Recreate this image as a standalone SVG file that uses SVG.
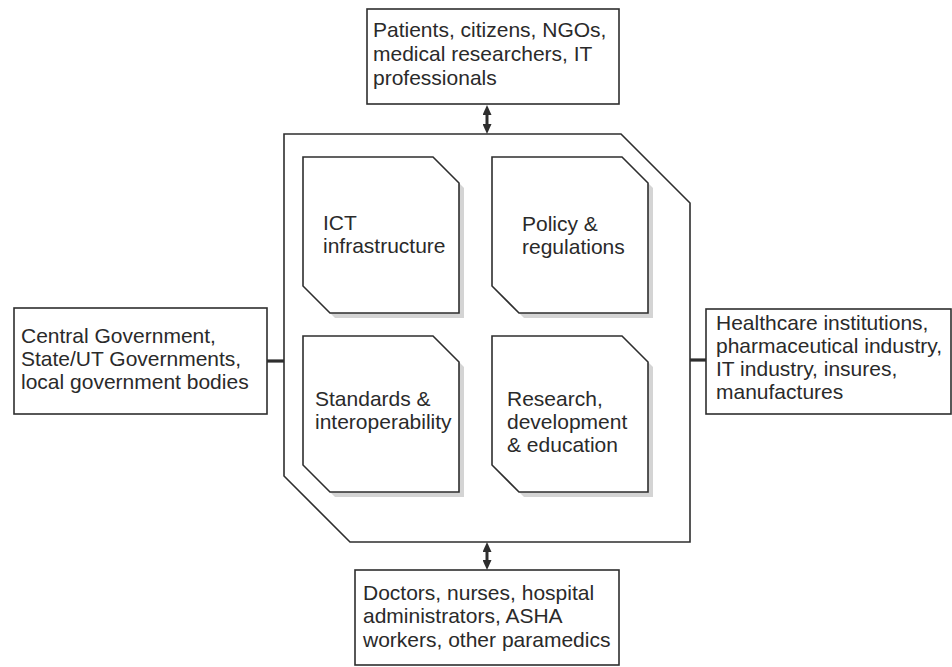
<svg xmlns="http://www.w3.org/2000/svg" width="952" height="667" viewBox="0 0 952 667">
  <style>
    .box { fill: #ffffff; stroke: #2e2e2e; stroke-width: 1.6; }
    .pillar { fill: #ffffff; stroke: #2e2e2e; stroke-width: 1.6; }
    .shadow { fill: #d4d4d4; stroke: none; }
    .frame { fill: none; stroke: #2e2e2e; stroke-width: 1.6; }
    .stub { stroke: #2e2e2e; stroke-width: 3.2; fill: none; }
    .shaft { stroke: #2e2e2e; stroke-width: 3; fill: none; marker-start: url(#head); marker-end: url(#head); }
    text { font-family: "Liberation Sans", Arial, sans-serif; font-size: 21px; fill: #2a2a2a; }
  </style>
  <defs>
    <marker id="head" viewBox="0 0 10 9" refX="0" refY="4.5" markerWidth="10" markerHeight="9" markerUnits="userSpaceOnUse" orient="auto-start-reverse">
      <path d="M0,0 L10,4.5 L0,9 Z" fill="#2e2e2e"/>
    </marker>
    <path id="pillarShape" d="M0,0 H130 L156,26 V156 H27 L0,129 Z"/>
  </defs>

  <rect width="952" height="667" fill="#ffffff"/>

  <!-- central framework outline -->
  <g id="framework">
    <path class="frame" d="M284,134 H621 L690,203 V542 H350 L284,476 Z"/>
  </g>

  <!-- connectors -->
  <g id="connectors">
    <line class="shaft" x1="487" y1="115" x2="487" y2="124"/>
    <line class="shaft" x1="487" y1="552" x2="487" y2="560"/>
    <line class="stub" x1="267" y1="361" x2="284" y2="361"/>
    <line class="stub" x1="690" y1="360" x2="706" y2="360"/>
  </g>

  <!-- four pillars -->
  <g id="ict">
    <use href="#pillarShape" class="shadow" x="308" y="162"/>
    <use href="#pillarShape" class="pillar" x="303" y="157"/>
    <text x="323" y="230">ICT</text>
    <text x="323" y="253">infrastructure</text>
  </g>
  <g id="policy">
    <use href="#pillarShape" class="shadow" x="497" y="162"/>
    <use href="#pillarShape" class="pillar" x="492" y="157"/>
    <text x="522" y="231">Policy &amp;</text>
    <text x="522" y="254">regulations</text>
  </g>
  <g id="standards">
    <use href="#pillarShape" class="shadow" x="308" y="341"/>
    <use href="#pillarShape" class="pillar" x="303" y="336"/>
    <text x="315" y="406">Standards &amp;</text>
    <text x="315" y="429">interoperability</text>
  </g>
  <g id="research">
    <use href="#pillarShape" class="shadow" x="497" y="341"/>
    <use href="#pillarShape" class="pillar" x="492" y="336"/>
    <text x="507" y="406">Research,</text>
    <text x="507" y="429">development</text>
    <text x="507" y="452">&amp; education</text>
  </g>

  <!-- stakeholder boxes -->
  <g id="public">
    <rect class="box" x="367" y="9" width="252" height="95"/>
    <text x="373" y="37">Patients, citizens, NGOs,</text>
    <text x="373" y="61">medical researchers, IT</text>
    <text x="373" y="85">professionals</text>
  </g>
  <g id="government">
    <rect class="box" x="14" y="308" width="253" height="106"/>
    <text x="21" y="343">Central Government,</text>
    <text x="21" y="366">State/UT Governments,</text>
    <text x="21" y="389">local government bodies</text>
  </g>
  <g id="industry">
    <rect class="box" x="706" y="309" width="245" height="105"/>
    <text x="716" y="330">Healthcare institutions,</text>
    <text x="716" y="353">pharmaceutical industry,</text>
    <text x="716" y="376">IT industry, insures,</text>
    <text x="716" y="399">manufactures</text>
  </g>
  <g id="practitioners">
    <rect class="box" x="355" y="570" width="264" height="95"/>
    <text x="363" y="600">Doctors, nurses, hospital</text>
    <text x="363" y="623">administrators, ASHA</text>
    <text x="363" y="647">workers, other paramedics</text>
  </g>
</svg>
